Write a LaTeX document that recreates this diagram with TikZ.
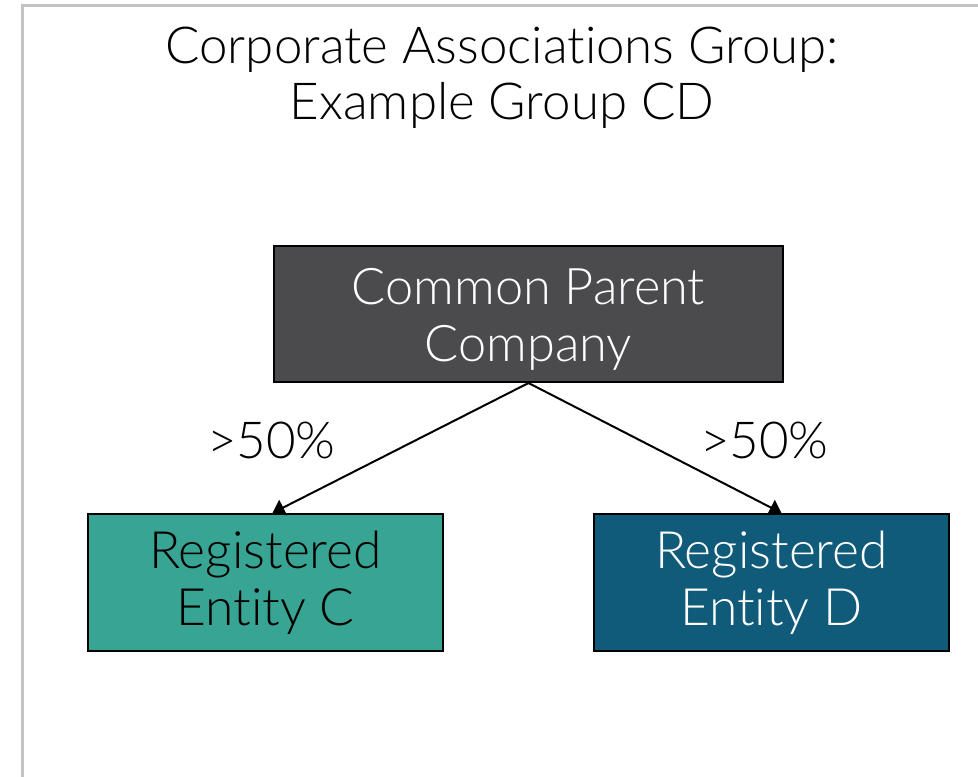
\documentclass[tikz,border=0pt]{standalone}
\usepackage{fontspec}
\setmainfont{Lato Light}[Ligatures=NoCommon]
\usetikzlibrary{arrows.meta,calc}
\definecolor{parentgrey}{HTML}{4B4B4D}
\definecolor{tealC}{HTML}{38A493}
\definecolor{blueD}{HTML}{115B7A}
\definecolor{framegrey}{HTML}{C3C3C3}
\begin{document}
\begin{tikzpicture}[x=1pt,y=-1pt,
  box/.style={draw=black, line width=2pt, inner sep=0pt, align=center,
    minimum width=355pt, minimum height=137pt,
    font=\fontsize{51.5}{57}\selectfont},
  pct/.style={font=\fontsize{51}{54}\selectfont, inner sep=0pt},
  link/.style={line width=2pt, -{Triangle[width=17pt,length=12pt]}}]
\useasboundingbox (0,0) rectangle (978,777);
\draw[framegrey, line width=3pt] (22.5,777) -- (22.5,5.5) -- (978,5.5);
\node[align=center, font=\fontsize{51}{56}\selectfont, inner sep=0pt] (title) at (502,78)
  {Corporate Associations Group:\\Example Group CD};
\node[box, fill=parentgrey, text=white, minimum width=509pt, minimum height=136pt,
  font=\fontsize{50.5}{57}\selectfont] (parent) at (528.5,314) {\rule{0pt}{0.93em}Common Parent\\Company};
\node[box, fill=tealC, text=black] (c) at (265.5,582.5) {Registered\\Entity C};
\node[box, fill=blueD, text=white] (d) at (771.5,582.5) {Registered\\Entity D};
\node[pct] (lc) at (271.5,440) {>50\%};
\node[pct] (ld) at (764.5,440) {>50\%};
\draw[link] (parent.south) -- ($(c.north)+(7,0)$);
\draw[link] (parent.south) -- ($(d.north)+(10,0)$);
\end{tikzpicture}
\end{document}
